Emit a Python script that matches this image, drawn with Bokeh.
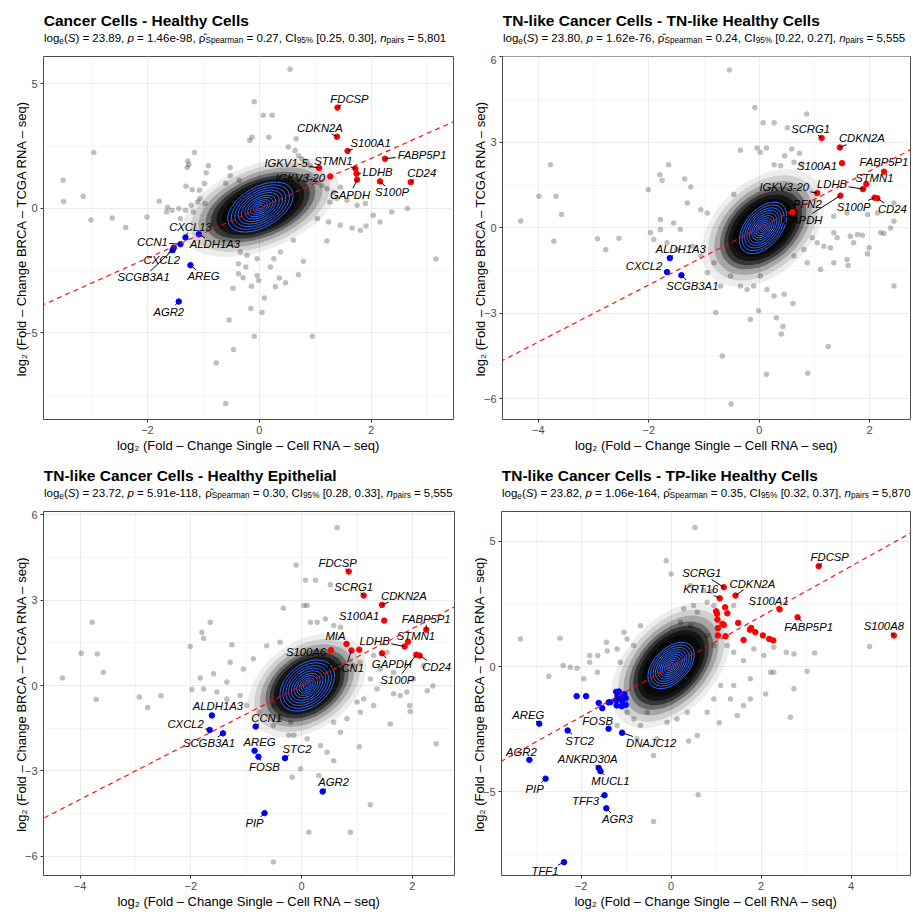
import math
from bokeh.plotting import figure
from bokeh.layouts import column, row
from bokeh.models import Slope, Range1d, FixedTicker, ColumnDataSource
from bokeh.core.properties import value
from bokeh.embed import file_html
from bokeh.resources import INLINE

# ---------------------------------------------------------------- data ----
X_LABEL = "log\u2082 (Fold \u2013 Change Single \u2013 Cell RNA \u2013 seq)"
Y_LABEL = "log\u2082 (Fold \u2013 Change BRCA \u2013 TCGA RNA \u2013 seq)"

# Panel 1: Cancer Cells - Healthy Cells
P1_TITLE = "Cancer Cells - Healthy Cells"
P1_STATS = ["23.89", "1.46e-98", "0.27", "[0.25, 0.30]", "5,801"]
P1_CENTER = [0.02, 0.05]
P1_BG_X = [-2.96, -3.51, -3.50, -3.15, -3.01, -2.63, -2.39, -2.01, -1.79, -1.64, -1.66, -1.56,
           -1.16, -1.28, -1.26, -1.29, -0.91, -0.95, -0.98, -1.31, -1.20, -1.07, -0.52, -0.52,
           -0.60, -0.36, -1.44, -1.32, -1.22, -1.18, -1.41, -1.06, -0.97, -1.10, -0.17,
           0.55, -0.09, 0.07, 0.23, -0.13, 0.17, 0.66, 0.52, 0.64, 0.70, 0.76, 0.85, 0.91, 0.88,
           0.97, 1.03, 1.12, 1.21, 1.33, 1.45, 1.26, 1.39, 1.57, 1.75, 1.90, 2.37, 2.65, 1.04,
           1.24, 1.45, 2.04, 2.16,
           3.16, 1.21, 1.66, 1.81, 1.91, 0.79, 0.70, 0.36, 0.47, 0.29, 0.09, 0.05, -0.15, -0.14,
           -0.47, -0.54, -0.09, -0.46, -0.77, -0.60, 0.95, -0.37, -0.24, -0.37, -0.29, -0.04,
           -0.01, 0.20, 0.26, 0.38, 0.61, -0.04, -0.22, -0.34]
P1_BG_Y = [2.24, 1.13, 0.27, 0.48, -0.47, -0.39, -0.77, -0.35, 0.28, 0.04, -0.15, -0.08,
           2.24, 1.90, 1.75, 1.64, 1.71, 1.43, 1.00, 0.89, 0.75, 0.73, 1.64, 1.31,
           1.01, 1.13, -0.01, -0.08, 0.12, -0.15, -0.41, 0.39, 0.19, 0.25, 2.72,
           5.58, 4.28, 3.73, 3.73, 2.85, 2.85, 2.79, 2.46, 2.32, 2.12, 1.99, 1.86, 1.72, 1.32,
           1.16, 1.05, 0.92, 0.79, 0.65, 0.85, 0.25, 0.39, 0.32, 0.12, 0.19, -0.15, -0.01, -0.41,
           -0.55, -0.68, -0.28, -0.55,
           -2.03, -1.31, -0.79, -0.88, -0.71, -2.12, -2.66, -2.79, -2.98, -3.15, -3.60, -4.18,
           -4.02, -3.13, -3.21, -4.48, -5.13, -5.66, -6.20, -7.83, -5.13, -2.22, -2.35, -2.62,
           -2.78, -2.69, -2.89, -2.35, -2.02, -1.75, -1.28, -2.02, -1.88, -1.75]
P1_UP_GENES = ["FDCSP", "CDKN2A", "S100A1", "FABP5P1", "STMN1", "LDHB", "IGKV1-5", "IGKV3-20",
               "GAPDH", "S100P", "CD24"]
P1_UP_X = [1.40, 1.39, 1.58, 2.25, 1.72, 1.74, 1.07, 1.27, 1.75, 2.16, 2.71]
P1_UP_Y = [4.04, 2.87, 2.30, 1.99, 1.59, 1.39, 1.62, 1.28, 1.15, 1.08, 1.05]
P1_DOWN_GENES = ["CXCL13", "ALDH1A3", "CCN1", "CXCL2", "SCGB3A1", "AREG", "AGR2"]
P1_DOWN_X = [-1.32, -1.08, -1.41, -1.53, -1.55, -1.23, -1.44]
P1_DOWN_Y = [-1.17, -1.04, -1.44, -1.58, -1.68, -2.28, -3.74]

# Panel 2: TN-like Cancer Cells - TN-like Healthy Cells
P2_TITLE = "TN-like Cancer Cells - TN-like Healthy Cells"
P2_STATS = ["23.80", "1.62e-76", "0.24", "[0.22, 0.27]", "5,555"]
P2_CENTER = [0.07, 0.0]
P2_BG_X = [-0.54, -0.08, 0.86, 0.07, 0.27, 0.51, -0.34, -0.04, 0.13, 0.02,
           0.59, 0.46, 0.73, 0.27, 0.39, 0.63, 0.77, -3.78, -3.99, -3.68,
           -3.58, -4.32, -3.72, -2.93, -2.54, -2.78, -2.01, -1.80, -1.76, -1.64,
           -1.35, -1.24, -0.46, -1.30, -1.06, -0.94, -1.79, -1.97, -1.79, -1.55,
           -1.43, -1.91, -1.67, -1.49, -1.21, -1.06, -0.82, -0.94, -0.70, -0.52,
           -0.34, -0.22, -0.10, 0.02, 0.14, 0.27, 0.45, 0.61, -0.79, -0.16,
           -0.01, 0.31, 0.43, 0.40, 1.25, -0.67, 0.13, 0.88, -0.51, 2.44,
           1.61, 1.99, 1.96, 2.26, 2.38, 2.14, 1.35, 1.41, 1.65, 1.78,
           1.87, 1.71, 1.29, 1.17, 1.59, 2.44, 2.44, 2.20, 1.35, 1.59,
           1.96, 0.96, 1.05, 0.81, 0.63, 0.87, 1.11, 1.35]
P2_BG_Y = [5.54, 4.22, 3.99, 3.69, 3.69, 3.51, 2.72, 2.80, 2.80, 2.65,
           2.77, 2.53, 2.62, 2.21, 2.18, 2.30, 2.25, 2.21, 1.11, 1.11,
           0.47, 0.24, -0.47, -0.38, -0.36, -0.77, 1.34, 1.86, 1.66, 2.21,
           1.71, 1.43, 1.17, 0.87, 0.64, 0.52, 0.29, -0.17, -0.06, 0.17,
           -0.06, -0.41, -0.52, -0.76, -0.64, -0.99, -1.22, -1.57, -2.04, -1.69,
           -2.04, -2.16, -2.04, -1.69, -2.16, -2.39, -2.33, -2.65, -2.97, -3.21,
           -2.91, -3.15, -3.46, -3.72, -4.16, -4.49, -5.13, -5.10, -6.18, -2.04,
           -1.32, -0.70, -0.91, -0.20, 0.00, 0.52, -0.17, -0.35, -0.29, -0.23,
           -0.26, -0.52, -0.70, -0.64, -1.11, 0.87, 0.23, -0.17, 0.41, 0.52,
           0.47, -0.35, -0.52, -0.76, -0.99, -1.22, -1.46, -1.22]
P2_UP_GENES = ["SCRG1", "CDKN2A", "S100A1", "FABP5P1", "STMN1", "LDHB", "IGKV3-20", "PFN2",
               "GAPDH", "S100P", "CD24"]
P2_UP_X = [1.13, 1.46, 1.50, 2.26, 1.94, 1.88, 1.05, 0.60, 1.47, 2.09, 2.14]
P2_UP_Y = [3.15, 2.82, 2.27, 1.97, 1.54, 1.36, 1.22, 0.55, 1.13, 1.06, 1.04]
P2_DOWN_GENES = ["ALDH1A3", "CXCL2", "SCGB3A1"]
P2_DOWN_X = [-1.62, -1.67, -1.41]
P2_DOWN_Y = [-1.06, -1.55, -1.66]

# Panel 3: TN-like Cancer Cells - Healthy Epithelial
P3_TITLE = "TN-like Cancer Cells - Healthy Epithelial"
P3_STATS = ["23.72", "5.91e-118", "0.30", "[0.28, 0.33]", "5,555"]
P3_CENTER = [0.1, 0.0]
P3_BG_X = [0.64, -0.10, 0.07, 0.25, 0.52, -0.33, 0.04, 0.10, 0.16, 0.28,
           0.43, 0.58, 0.70, -3.78, -1.65, -3.98, -3.69, -3.58, -4.32, -3.71,
           -2.93, -2.54, -2.78, -1.80, -1.77, -2.01, -1.26, -1.83, -1.59, -1.35,
           -1.29, -1.05, -0.87, -0.63, -0.39, -1.98, -1.77, -1.53, -1.35, -1.11,
           -0.99, -0.75, -0.51, -0.39, -0.51, -0.20, -0.14, -0.23, 0.10, 0.34,
           0.46, 0.58, -0.02, -0.17, 0.31, 1.24, 0.13, 0.88, -0.51, 1.04,
           2.43, 1.60, 1.96, 1.95, 2.27, 2.37, 1.90, 1.66, 1.78, 1.36,
           1.30, 1.12, 1.06, 0.82, 0.58, 0.70, 1.00, 2.02, 2.20, 1.42,
           1.66, 1.24, 1.06, 1.30, 1.54, 0.94]
P3_BG_Y = [5.54, 4.23, 3.70, 3.70, 3.54, 2.71, 2.81, 2.81, 2.22, 2.22,
           2.34, 2.11, 2.05, 2.22, 2.22, 1.13, 1.11, 0.47, 0.26, -0.49,
           -0.40, -0.36, -0.77, 1.87, 1.66, 1.37, 1.43, 0.26, 0.41, 0.12,
           0.82, 0.58, 0.94, 1.40, 1.52, -0.14, -0.12, -0.23, -0.47, -0.35,
           -0.70, -0.94, -0.70, -1.17, -1.40, -1.29, -1.75, -1.75, -1.87, -2.11,
           -2.34, -2.64, -2.92, -3.22, -3.16, -4.19, -5.15, -5.15, -6.20, -2.15,
           -2.04, -1.35, -0.91, -0.70, -0.18, -0.02, -0.23, -0.29, -0.35, -0.12,
           -0.70, -0.47, -0.94, -1.17, -1.29, -1.64, -0.58, 0.23, 0.70, 0.58,
           0.47, 0.23, 0.82, 1.05, 1.17, 0.70]
P3_UP_GENES = ["FDCSP", "SCRG1", "CDKN2A", "S100A1", "FABP5P1", "STMN1", "LDHB", "MIA",
               "S100A6", "FSCN1", "", "GAPDH", "S100P", "CD24"]
P3_UP_X = [0.85, 1.12, 1.45, 1.49, 2.25, 1.92, 1.86, 0.81, 0.53, 0.90, 1.04, 1.45, 2.07, 2.13]
P3_UP_Y = [4.00, 3.16, 2.83, 2.28, 1.96, 1.54, 1.37, 1.46, 1.24, 1.23, 1.26, 1.13, 1.08, 1.05]
P3_DOWN_GENES = ["ALDH1A3", "CXCL2", "SCGB3A1", "CCN1", "AREG", "FOSB", "STC2", "AGR2", "PIP"]
P3_DOWN_X = [-1.62, -1.66, -1.42, -0.83, -0.85, -0.78, -0.30, 0.38, -0.67]
P3_DOWN_Y = [-1.05, -1.56, -1.68, -1.44, -2.29, -2.50, -2.55, -3.72, -4.48]

# Panel 4: TN-like Cancer Cells - TP-like Healthy Cells
P4_TITLE = "TN-like Cancer Cells - TP-like Healthy Cells"
P4_STATS = ["23.82", "1.06e-164", "0.35", "[0.32, 0.37]", "5,870"]
P4_CENTER = [0.0, 0.04]
P4_BG_X = [0.53, -0.11, 0.00, 0.73, 0.43, 0.90, 0.95, 0.80, 0.50, 0.58,
           0.28, 1.39, -3.35, -2.47, -2.40, -2.72, -2.24, -2.09, -1.81, -1.81,
           -1.63, -1.44, -1.42, -1.20, -0.68, -1.05, -1.64, -1.94, -1.13, -0.98,
           -0.83, 0.21, 0.43, 0.80, 0.95, 1.24, 1.39, 1.84, 2.06, 1.61,
           2.21, 2.28, 1.76, 2.10, 1.76, 1.39, 1.10, 0.95, 0.80, 0.36,
           0.13, -0.09, -0.31, -0.39, 0.39, 1.07, 0.60, -0.39, 3.19, 3.02,
           2.73, 2.65, 2.73, 2.56, 4.41, 2.28, -0.83, -0.68, -0.53, -0.98,
           0.58, -1.20, -0.76, 1.32, 1.61, 1.47]
P4_BG_Y = [5.54, 4.22, 3.69, 3.03, 3.23, 2.99, 2.43, 2.56, 2.43, 2.16,
           2.30, 2.43, 1.10, 1.13, 0.04, -0.39, -0.03, -0.07, 0.44, 0.17,
           0.44, 0.97, 0.62, 0.70, 1.63, 1.37, -0.23, -0.49, 0.17, 1.10,
           0.84, 1.77, 1.63, 1.24, 0.84, 0.84, 0.57, 0.70, 0.44, 0.24,
           -0.23, -0.23, -0.49, -1.09, -1.29, -0.76, -0.76, -1.29, -1.82, -1.82,
           -2.09, -2.22, -2.88, -3.55, -2.97, -2.24, -5.11, -6.18, 0.54, -0.19,
           -0.89, -2.02, 0.50, 0.57, 0.80, 0.77, -2.09, -2.35, -1.82, -1.82,
           -2.75, -2.35, -2.88, -1.29, -1.55, -1.95]
P4_UP_GENES = ["FDCSP", "SCRG1", "KRT16", "CDKN2A", "S100A1", "FABP5P1", "S100A8"]
P4_UP_X = [3.28, 1.17, 1.08, 1.43, 2.41, 2.81, 4.95]
P4_UP_Y = [4.00, 3.16, 2.72, 2.83, 2.28, 1.96, 1.24]
P4_UP_OTHER_X = [1.00, 1.02, 1.03, 1.04, 1.04, 1.20, 1.25, 1.14, 1.17, 1.21, 1.49, 1.61, 1.75,
                 1.78, 1.87, 2.04, 2.18, 2.27]
P4_UP_OTHER_Y = [2.20, 2.10, 1.87, 1.53, 1.24, 2.36, 2.12, 1.70, 1.66, 1.21, 1.74, 1.06, 1.47,
                 1.54, 1.37, 1.24, 1.10, 1.04]
P4_DOWN_GENES = ["AREG", "FOSB", "STC2", "DNAJC12", "AGR2", "ANKRD30A", "MUCL1", "PIP", "TFF3",
                 "AGR3", "TFF1"]
P4_DOWN_X = [-2.93, -1.39, -2.30, -1.09, -3.15, -1.61, -1.57, -2.79, -1.48, -1.44, -2.38]
P4_DOWN_Y = [-2.28, -2.48, -2.55, -2.64, -3.72, -4.04, -4.17, -4.47, -5.13, -5.65, -7.80]
P4_DOWN_OTHER_X = [-2.10, -1.89, -1.61, -1.53, -1.39, -1.35, -1.22, -1.16, -1.19, -1.13, -1.04,
                   -1.22, -1.09, -1.01, -1.21, -1.10, -1.01]
P4_DOWN_OTHER_Y = [-1.18, -1.18, -1.45, -1.66, -1.43, -1.42, -1.01, -1.00, -1.17, -1.25, -1.10,
                   -1.34, -1.37, -1.26, -1.55, -1.58, -1.53]

# -------------------------------------------------------------- layout ----
# gene label placement: pixel offset (right, down) of the label centre from its point
P1_LABEL_OFFSETS = {"FDCSP": (12, -9), "CDKN2A": (-17, -9), "S100A1": (23, -8),
                    "FABP5P1": (37, -4), "STMN1": (-22, -8), "LDHB": (21, -2),
                    "IGKV1-5": (-33, -5), "IGKV3-20": (-30, 2), "GAPDH": (-7, 15),
                    "S100P": (12, 11), "CD24": (11, -9), "CXCL13": (5, -11),
                    "ALDH1A3": (16, 10), "CCN1": (-28, -2), "CXCL2": (-12, 12),
                    "SCGB3A1": (-29, 27), "AREG": (13, 11), "AGR2": (-10, 10)}
P2_LABEL_OFFSETS = {"SCRG1": (-11, -9), "CDKN2A": (22, -9), "S100A1": (-25, 3),
                    "FABP5P1": (0, -10), "STMN1": (8, -6), "LDHB": (-31, -5),
                    "IGKV3-20": (-33, -6), "PFN2": (15, -8), "GAPDH": (-38, 24),
                    "S100P": (-21, 9), "CD24": (15, 11), "ALDH1A3": (11, -9),
                    "CXCL2": (-23, -6), "SCGB3A1": (11, 11)}
P3_LABEL_OFFSETS = {"FDCSP": (-11, -9), "SCRG1": (-10, -9), "CDKN2A": (22, -9),
                    "S100A1": (-25, -5), "FABP5P1": (0, -11), "STMN1": (8, -6),
                    "LDHB": (-30, -6), "MIA": (-11, -8), "S100A6": (-25, 2),
                    "FSCN1": (-6, 18), "GAPDH": (10, 11), "S100P": (-19, 25),
                    "CD24": (17, 11), "ALDH1A3": (6, -9), "CXCL2": (-24, -6),
                    "SCGB3A1": (-14, 10), "CCN1": (11, -9), "AREG": (5, -9),
                    "FOSB": (6, 10), "STC2": (12, -9), "AGR2": (11, -9), "PIP": (-10, 10)}
P4_LABEL_OFFSETS = {"FDCSP": (11, -9), "SCRG1": (-22, -14), "KRT16": (-19, -9),
                    "CDKN2A": (17, -12), "S100A1": (-11, -8), "FABP5P1": (11, 10),
                    "S100A8": (-10, -9), "AREG": (-11, -9), "FOSB": (-11, -8),
                    "STC2": (12, 10), "DNAJC12": (29, 10), "AGR2": (-8, -8),
                    "ANKRD30A": (-11, -9), "MUCL1": (10, 10), "PIP": (-11, 10),
                    "TFF3": (-19, 6), "AGR3": (11, 11), "TFF1": (-19, 9)}

FONT = "Liberation Sans"
RED = "#FF0000"
BLUE = "#0000FF"
CONTOUR_BLUE = "#3366FF"
LABEL_SIZE = 11.3
TITLE_SIZE = 15.5
STAT_SIZE = 11.5
STAT_SUB = 8.2

# dense point cloud drawn as stacked translucent ellipses, contour rings inside it
CORE_SCALES = [1.42, 1.27, 1.13, 1.0, 0.9, 0.8, 0.7]
CORE_ALPHAS = [0.07, 0.12, 0.2, 0.35, 0.5, 0.6, 0.6]
RING_SCALES = [1.0, 0.89, 0.78, 0.68, 0.58, 0.48, 0.39, 0.30, 0.22, 0.14, 0.07]

# Arial / Liberation Sans advance widths (1/1000 em)
ADV = {" ": 278, "%": 889, "(": 333, ")": 333, ",": 278, "-": 333, ".": 278, "=": 584,
       "[": 278, "]": 278, "\u03c1": 578, "\u0302": 0}
for ch in "0123456789":
    ADV[ch] = 556
ADV.update(dict(zip("ABCDEFGHIJKLMNOPQRSTUVWXYZ",
                    [667, 667, 722, 722, 667, 611, 778, 722, 278, 500, 667, 556, 833, 722, 778,
                     667, 778, 722, 667, 611, 722, 667, 944, 667, 667, 611])))
ADV.update(dict(zip("abcdefghijklmnopqrstuvwxyz",
                    [556, 556, 500, 556, 556, 278, 556, 556, 222, 222, 500, 222, 833, 556, 556,
                     556, 556, 333, 500, 278, 556, 500, 722, 500, 500, 500])))


def text_width(s, size):
    return sum(ADV.get(c, 556) for c in s) * size / 1000.0


def stat_runs(stats):
    logs, pval, rho, ci, n = stats
    return [("log", "m", "normal"), ("e", "s", "normal"), ("(", "m", "normal"),
            ("S", "m", "italic"), (f") = {logs}, ", "m", "normal"), ("p", "m", "italic"),
            (f" = {pval}, ", "m", "normal"), ("\u03c1\u0302", "m", "normal"),
            ("Spearman", "s", "normal"), (f" = {rho}, CI", "m", "normal"),
            ("95%", "s", "normal"), (f" {ci}, ", "m", "normal"), ("n", "m", "italic"),
            ("pairs", "s", "normal"), (f" = {n}", "m", "normal")]


PANELS = [
    dict(title=P1_TITLE, stats=P1_STATS, center=P1_CENTER, bg=(P1_BG_X, P1_BG_Y),
         up=(P1_UP_GENES, P1_UP_X, P1_UP_Y), down=(P1_DOWN_GENES, P1_DOWN_X, P1_DOWN_Y),
         up_other=([], []), down_other=([], []), offsets=P1_LABEL_OFFSETS,
         xr=(-3.86, 3.475), yr=(-8.47, 6.09), xt=[-2, 0, 2], xm=[-3, -1, 1, 3],
         yt=[-5, 0, 5], ym=[-7.5, -2.5, 2.5], width=456, head=55, height=402,
         border=(43, 3, 1, 38), core=(58, 30, 22), rings=(36, 20, 30)),
    dict(title=P2_TITLE, stats=P2_STATS, center=P2_CENTER, bg=(P2_BG_X, P2_BG_Y),
         up=(P2_UP_GENES, P2_UP_X, P2_UP_Y), down=(P2_DOWN_GENES, P2_DOWN_X, P2_DOWN_Y),
         up_other=([], []), down_other=([], []), offsets=P2_LABEL_OFFSETS,
         xr=(-4.65, 2.74), yr=(-6.72, 6.01), xt=[-4, -2, 0, 2], xm=[-3, -1, 1],
         yt=[-6, -3, 0, 3, 6], ym=[-4.5, -1.5, 1.5, 4.5], width=457, head=55, height=402,
         border=(46, 3, 1, 38), core=(50, 33, 42), rings=(30, 18, 50)),
    dict(title=P3_TITLE, stats=P3_STATS, center=P3_CENTER, bg=(P3_BG_X, P3_BG_Y),
         up=(P3_UP_GENES, P3_UP_X, P3_UP_Y), down=(P3_DOWN_GENES, P3_DOWN_X, P3_DOWN_Y),
         up_other=([], []), down_other=([], []), offsets=P3_LABEL_OFFSETS,
         xr=(-4.66, 2.76), yr=(-6.67, 6.11), xt=[-4, -2, 0, 2], xm=[-3, -1, 1],
         yt=[-6, -3, 0, 3, 6], ym=[-4.5, -1.5, 1.5, 4.5], width=456, head=53, height=404,
         border=(43, 2, 1, 39), core=(46, 31, 35), rings=(31, 21, 40)),
    dict(title=P4_TITLE, stats=P4_STATS, center=P4_CENTER, bg=(P4_BG_X, P4_BG_Y),
         up=(P4_UP_GENES, P4_UP_X, P4_UP_Y), down=(P4_DOWN_GENES, P4_DOWN_X, P4_DOWN_Y),
         up_other=(P4_UP_OTHER_X, P4_UP_OTHER_Y), down_other=(P4_DOWN_OTHER_X, P4_DOWN_OTHER_Y),
         offsets=P4_LABEL_OFFSETS,
         xr=(-3.77, 5.32), yr=(-8.33, 6.18), xt=[-2, 0, 2, 4], xm=[-3, -1, 1, 3, 5],
         yt=[-5, 0, 5], ym=[-7.5, -2.5, 2.5], width=457, head=53, height=404,
         border=(45, 3, 1, 39), core=(52, 32, 48), rings=(28, 17, 45)),
]


def leader_end(dx, dy, text):
    """Where a segment from the point reaches the label box (pixels from the point)."""
    hw = text_width(text, LABEL_SIZE) / 2 + 1.5
    hh = LABEL_SIZE * 0.55
    vx, vy = -dx, -dy
    tx = hw / abs(vx) if vx else math.inf
    ty = hh / abs(vy) if vy else math.inf
    t = min(tx, ty)
    if t >= 1:
        return None
    ex, ey = dx + vx * t, dy + vy * t
    if math.hypot(ex, ey) < 4:
        return None
    return ex, ey


def make_header(cfg):
    """Bold title and statistics line, set in a strip above the panel."""
    W, H = cfg["width"], cfg["head"]
    L = cfg["border"][0]
    h = figure(width=W, height=H, x_range=Range1d(0, W), y_range=Range1d(0, H),
               x_axis_type=None, y_axis_type=None, output_backend="svg",
               toolbar_location=None, title=None, min_border=0)
    h.outline_line_color = None
    h.background_fill_color = "white"
    h.border_fill_color = "white"
    h.grid.visible = False
    # baselines: title 36 px and statistics 18.5 px above the panel frame
    top_gap = cfg["border"][2]
    h.text(x=[L + 0.3], y=[36 - top_gap], text=[cfg["title"]], text_font=value(FONT),
           text_font_size=f"{TITLE_SIZE}px", text_font_style="bold",
           text_baseline="alphabetic", text_align="left", text_color="black")
    cur = L + 0.5
    for text, kind, style in stat_runs(cfg["stats"]):
        size = STAT_SIZE if kind == "m" else STAT_SUB
        base = (18.5 if kind == "m" else 15.8) - top_gap
        lead = len(text) - len(text.lstrip(" "))
        cur += lead * ADV[" "] * size / 1000.0
        body = text.strip(" ")
        h.text(x=[cur], y=[base], text=[body], text_font=value(FONT),
               text_font_size=f"{size}px", text_font_style=style,
               text_baseline="alphabetic", text_align="left", text_color="black")
        cur += text_width(text.lstrip(" "), size)
    return h


def make_panel(cfg):
    W, H = cfg["width"], cfg["height"]
    L, R, T, B = cfg["border"]
    x0, x1 = cfg["xr"]
    y0, y1 = cfg["yr"]
    kx = (W - L - R) / (x1 - x0)
    ky = (H - T - B) / (y1 - y0)

    p = figure(width=W, height=H, x_range=Range1d(x0, x1), y_range=Range1d(y0, y1),
               output_backend="svg", toolbar_location=None, title=None,
               min_border_left=L, min_border_right=R, min_border_top=T, min_border_bottom=B)
    p.background_fill_color = "white"
    p.border_fill_color = "white"
    p.outline_line_color = "#4d4d4d"
    p.outline_line_width = 1

    p.xaxis.ticker = FixedTicker(ticks=cfg["xt"], minor_ticks=cfg["xm"])
    p.yaxis.ticker = FixedTicker(ticks=cfg["yt"], minor_ticks=cfg["ym"])
    p.xaxis.axis_label = X_LABEL
    p.yaxis.axis_label = Y_LABEL
    for ax in (p.xaxis[0], p.yaxis[0]):
        ax.axis_line_color = None
        ax.major_tick_line_color = "#333333"
        ax.major_tick_out = 3
        ax.major_tick_in = 0
        ax.minor_tick_line_color = None
        ax.major_label_text_font = FONT
        ax.major_label_text_font_size = "11px"
        ax.major_label_text_color = "#4d4d4d"
        ax.major_label_standoff = 2
        ax.axis_label_text_font = FONT
        ax.axis_label_text_font_size = "13px"
        ax.axis_label_text_font_style = "normal"
        ax.axis_label_text_color = "black"
    p.xaxis[0].axis_label_standoff = 1
    p.yaxis[0].axis_label_standoff = -7
    for g in (p.xgrid[0], p.ygrid[0]):
        g.grid_line_color = "#ebebeb"
        g.grid_line_width = 1.1
        g.minor_grid_line_color = "#f0f0f0"
        g.minor_grid_line_width = 0.7

    cx, cy = cfg["center"]
    a, b, ang = cfg["core"]
    for s, al in zip(CORE_SCALES, CORE_ALPHAS):
        p.ellipse(x=[cx], y=[cy], width=2 * a * s, height=2 * b * s, angle=math.radians(ang),
                  width_units="screen", height_units="screen",
                  fill_color="black", fill_alpha=al, line_color=None)

    bx, by = cfg["bg"]
    assert len(bx) == len(by)
    p.scatter(bx, by, size=5.5, fill_color="black", fill_alpha=0.25, line_color=None)

    ra, rb, rang = cfg["rings"]
    for s in RING_SCALES:
        p.ellipse(x=[cx], y=[cy], width=2 * ra * s, height=2 * rb * s,
                  angle=math.radians(rang), width_units="screen", height_units="screen",
                  fill_color=None, line_color=CONTOUR_BLUE, line_width=1)

    p.add_layout(Slope(gradient=1, y_intercept=0, line_color="red", line_width=1.1,
                       line_dash="5 4"))

    # highlighted genes
    ux, uy = cfg["up_other"]
    if ux:
        p.scatter(ux, uy, size=5.5, color=RED)
    dx_, dy_ = cfg["down_other"]
    if dx_:
        p.scatter(dx_, dy_, size=5.5, color=BLUE)

    names, lx, ly, ox, oy = [], [], [], [], []
    sx0, sy0, sx1, sy1 = [], [], [], []
    for (genes, xs, ys), col in ((cfg["up"], RED), (cfg["down"], BLUE)):
        p.scatter(xs, ys, size=5.5, color=col)
        for g, x, y in zip(genes, xs, ys):
            if not g:
                continue
            dx, dy = cfg["offsets"][g]
            names.append(g)
            lx.append(x)
            ly.append(y)
            ox.append(dx)
            oy.append(dy)
            end = leader_end(dx, dy, g)
            if end:
                sx0.append(x)
                sy0.append(y)
                sx1.append(x + end[0] / kx)
                sy1.append(y - end[1] / ky)
    if sx0:
        p.segment(sx0, sy0, sx1, sy1, line_color="black", line_width=1)
    src = ColumnDataSource(dict(x=lx, y=ly, text=names, xo=ox, yo=oy))
    p.text(x="x", y="y", text="text", x_offset="xo", y_offset="yo", source=src,
           text_font=value(FONT), text_font_style="italic", text_font_size=f"{LABEL_SIZE}px",
           text_align="center", text_baseline="middle", text_color="black")
    return p


heads = [make_header(c) for c in PANELS]
plots = [make_panel(c) for c in PANELS]
page = column(row(heads[0], heads[1]), row(plots[0], plots[1]),
              row(heads[2], heads[3]), row(plots[2], plots[3]))

with open("out.html", "w") as f:
    f.write(file_html(page, INLINE))
